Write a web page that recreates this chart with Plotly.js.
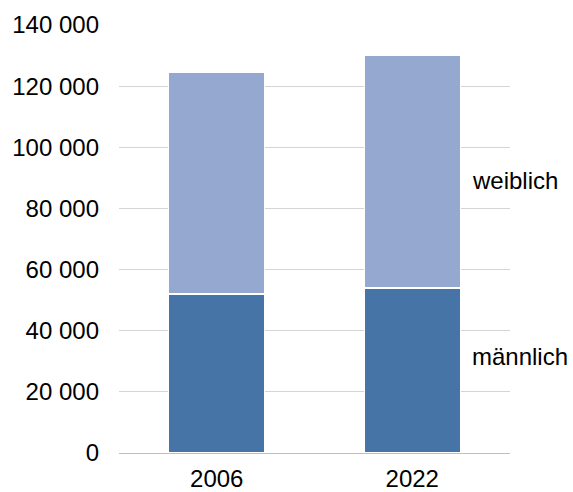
<!DOCTYPE html>
<html>
<head>
<meta charset="utf-8">
<script src="https://cdn.plot.ly/plotly-3.0.1.min.js"></script>
<style>html,body{margin:0;padding:0;background:#fff;}</style>
</head>
<body>
<div id="chart" style="width:573px;height:492px;"></div>
<script>
var years = ["2006", "2022"];
var maennlich = [52000, 54000];
var weiblich = [72500, 76000];
var tickVals = [0, 20000, 40000, 60000, 80000, 100000, 120000, 140000];
var tickText = ["0", "20 000", "40 000", "60 000", "80 000", "100 000", "120 000", "140 000"];

var font = "Liberation Sans, Arial, sans-serif";
var traces = [
  {type: "bar", x: years, y: maennlich, name: "männlich",
   marker: {color: "#4674a6", line: {color: "#ffffff", width: 1.2}}, width: 0.49},
  {type: "bar", x: years, y: weiblich, name: "weiblich",
   marker: {color: "#95a9d0", line: {color: "#ffffff", width: 1.2}}, width: 0.49}
];
var layout = {
  width: 573, height: 492,
  margin: {l: 119, r: 63, t: 25, b: 39},
  barmode: "stack",
  showlegend: false,
  paper_bgcolor: "#ffffff", plot_bgcolor: "#ffffff",
  font: {family: font, size: 24, color: "#000000"},
  xaxis: {type: "category", range: [-0.5, 1.5], showgrid: false, zeroline: false,
          showline: false, ticks: "", tickfont: {size: 24}, ticklabelstandoff: 9},
  yaxis: {range: [0, 140000], tickvals: tickVals, ticktext: tickText,
          showgrid: true, gridcolor: "#d4d4d4", gridwidth: 1,
          zeroline: true, zerolinecolor: "#bfbfbf", zerolinewidth: 1,
          showline: false, ticks: "", ticklen: 0, tickfont: {size: 24},
          ticklabelstandoff: 19},
  annotations: [
    {xref: "paper", yref: "y", x: 0.897, y: 89000, xanchor: "left", yanchor: "middle",
     text: "weiblich", showarrow: false, font: {size: 24}},
    {xref: "paper", yref: "y", x: 0.897, y: 31500, xanchor: "left", yanchor: "middle",
     text: "männlich", showarrow: false, font: {size: 24}}
  ]
};
Plotly.newPlot("chart", traces, layout, {displayModeBar: false, staticPlot: true});
</script>
</body>
</html>
